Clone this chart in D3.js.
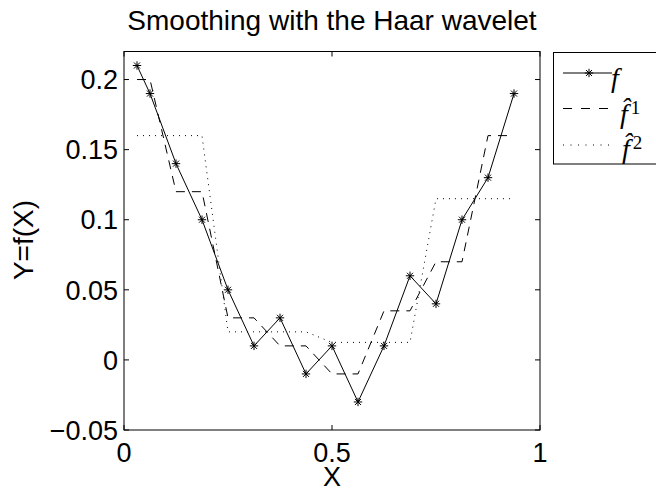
<!DOCTYPE html>
<html>
<head>
<meta charset="utf-8">
<script src="https://cdn.jsdelivr.net/npm/d3@7"></script>
<style>
  html, body { margin: 0; padding: 0; background: #fff; }
  svg { display: block; }
</style>
</head>
<body>
<svg id="chart" width="656" height="492"></svg>
<script>
// ---- data ----
const xValues = [0.03125, 0.0625, 0.125, 0.1875, 0.25, 0.3125, 0.375, 0.4375, 0.5, 0.5625, 0.625, 0.6875, 0.75, 0.8125, 0.875, 0.9375];
const fValues = [0.21, 0.19, 0.14, 0.10, 0.05, 0.01, 0.03, -0.01, 0.01, -0.03, 0.01, 0.06, 0.04, 0.10, 0.13, 0.19];
const f1Values = [0.2, 0.2, 0.12, 0.12, 0.03, 0.03, 0.01, 0.01, -0.01, -0.01, 0.035, 0.035, 0.07, 0.07, 0.16, 0.16];
const f2Values = [0.16, 0.16, 0.16, 0.16, 0.02, 0.02, 0.02, 0.02, 0.0125, 0.0125, 0.0125, 0.0125, 0.115, 0.115, 0.115, 0.115];
const xTicks = [0, 0.5, 1];
const yTicks = [-0.05, 0, 0.05, 0.1, 0.15, 0.2];
const xTickLabels = ["0", "0.5", "1"];
const yTickLabels = ["\u22120.05", "0", "0.05", "0.1", "0.15", "0.2"];
const titleText = "Smoothing with the Haar wavelet";
const xLabel = "X";
const yLabel = "Y=f(X)";

// ---- layout ----
const svg = d3.select("#chart");
const L = 124, R = 540, T = 51.5, B = 430;
const x = d3.scaleLinear().domain([0, 1]).range([L, R]);
const y = d3.scaleLinear().domain([-0.05, 0.22]).range([B, T]);
const sans = "'Liberation Sans', Arial, Helvetica, sans-serif";
const serif = "'Liberation Serif', 'DejaVu Serif', serif";

// clip
svg.append("defs").append("clipPath").attr("id", "clip")
  .append("rect").attr("x", L).attr("y", T).attr("width", R - L).attr("height", B - T);

const plot = svg.append("g").attr("clip-path", "url(#clip)");

const line = (vals) => d3.line().x((d, i) => x(xValues[i])).y(d => y(d))(vals);

plot.append("path").attr("d", line(f2Values))
  .attr("fill", "none").attr("stroke", "#000").attr("stroke-width", 1)
  .attr("stroke-dasharray", "1,5");
plot.append("path").attr("d", line(f1Values))
  .attr("fill", "none").attr("stroke", "#000").attr("stroke-width", 1)
  .attr("stroke-dasharray", "9,7");
plot.append("path").attr("d", line(fValues))
  .attr("fill", "none").attr("stroke", "#000").attr("stroke-width", 1);

function starPath(r) {
  const p = d3.path();
  const d = r * 0.72;
  p.moveTo(-r, 0); p.lineTo(r, 0);
  p.moveTo(0, -r); p.lineTo(0, r);
  p.moveTo(-d, -d); p.lineTo(d, d);
  p.moveTo(-d, d); p.lineTo(d, -d);
  return p.toString();
}
plot.selectAll(".star").data(fValues).enter().append("path")
  .attr("class", "star")
  .attr("transform", (d, i) => `translate(${x(xValues[i])},${y(d)})`)
  .attr("d", starPath(4.2))
  .attr("fill", "none").attr("stroke", "#000").attr("stroke-width", 1);

// axes box
svg.append("rect").attr("x", L).attr("y", T).attr("width", R - L).attr("height", B - T)
  .attr("fill", "none").attr("stroke", "#000").attr("stroke-width", 1);

const tickLen = 5;
const ax = svg.append("g").attr("stroke", "#000").attr("stroke-width", 1);
xTicks.forEach(t => {
  ax.append("line").attr("x1", x(t)).attr("x2", x(t)).attr("y1", B).attr("y2", B - tickLen);
  ax.append("line").attr("x1", x(t)).attr("x2", x(t)).attr("y1", T).attr("y2", T + tickLen);
});
yTicks.forEach(t => {
  ax.append("line").attr("x1", L).attr("x2", L + tickLen).attr("y1", y(t)).attr("y2", y(t));
  ax.append("line").attr("x1", R).attr("x2", R - tickLen).attr("y1", y(t)).attr("y2", y(t));
});

// tick labels
svg.selectAll(".xt").data(xTicks).enter().append("text")
  .attr("x", d => x(d)).attr("y", 462)
  .attr("text-anchor", "middle")
  .attr("font-family", sans).attr("font-size", 27)
  .text((d, i) => xTickLabels[i]);
svg.selectAll(".yt").data(yTicks).enter().append("text")
  .attr("x", 118).attr("y", d => y(d))
  .attr("dy", "0.36em")
  .attr("text-anchor", "end")
  .attr("font-family", sans).attr("font-size", 27)
  .text((d, i) => yTickLabels[i]);

// labels
svg.append("text").attr("x", 332).attr("y", 30).attr("text-anchor", "middle")
  .attr("font-family", sans).attr("font-size", 28).text(titleText);
svg.append("text").attr("x", 332).attr("y", 486).attr("text-anchor", "middle")
  .attr("font-family", sans).attr("font-size", 27).text(xLabel);
svg.append("text").attr("transform", "translate(33,240) rotate(-90)").attr("text-anchor", "middle")
  .attr("font-family", sans).attr("font-size", 28).text(yLabel);

// legend
const lg = svg.append("g");
lg.append("rect").attr("x", 553.5).attr("y", 52.5).attr("width", 150).attr("height", 111.5)
  .attr("fill", "#fff").attr("stroke", "#000").attr("stroke-width", 1);
const rows = [73, 108.5, 145];
lg.append("line").attr("x1", 563).attr("x2", 612).attr("y1", rows[0]).attr("y2", rows[0])
  .attr("stroke", "#000");
lg.append("path").attr("transform", `translate(589,${rows[0]})`).attr("d", starPath(4.2))
  .attr("fill", "none").attr("stroke", "#000");
lg.append("line").attr("x1", 563).attr("x2", 612).attr("y1", rows[1]).attr("y2", rows[1])
  .attr("stroke", "#000").attr("stroke-dasharray", "9,9");
lg.append("line").attr("x1", 563).attr("x2", 612).attr("y1", rows[2]).attr("y2", rows[2])
  .attr("stroke", "#000").attr("stroke-dasharray", "1,6.5");

// legend labels
lg.append("text").attr("x", 611).attr("y", 87).attr("font-family", serif)
  .attr("font-style", "italic").attr("font-size", 28).text("f");
[[620, 123, "1"], [622, 158, "2"]].forEach(([xx, base, sup]) => {
  const t = lg.append("text").attr("x", xx).attr("y", base).attr("font-family", serif)
    .attr("font-size", 28);
  t.append("tspan").attr("font-style", "italic").text("f\u0302");
  t.append("tspan").attr("font-size", 19).attr("dx", 3).attr("dy", -9).text(sup);
});
</script>
</body>
</html>
